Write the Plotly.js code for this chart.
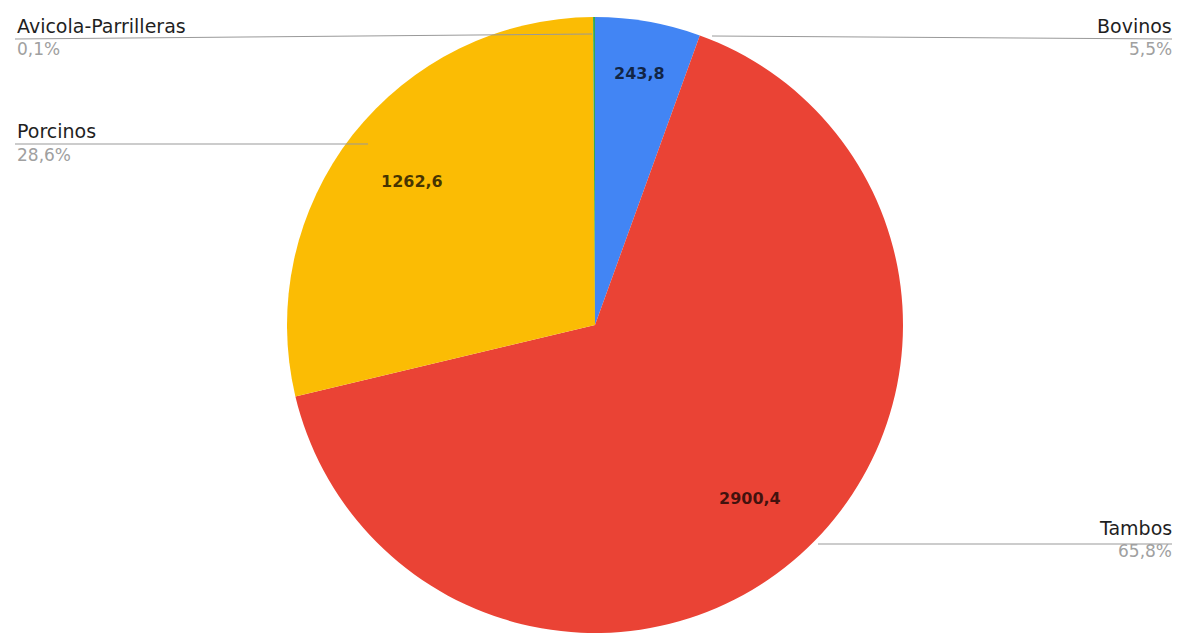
<!DOCTYPE html>
<html>
<head>
<meta charset="utf-8">
<script src="https://cdn.plot.ly/plotly-3.0.1.min.js"></script>
<style>html,body{margin:0;padding:0;background:#fff;}#chart{width:1177px;height:642px;}</style>
</head>
<body>
<div id="chart"></div>
<script>
// ---- data ----
const categories = ["Bovinos", "Tambos", "Porcinos", "Avicola-Parrilleras"];
const values = [243.8, 2900.4, 1262.6, 4.4];
const colors = ["#4285F4", "#EA4335", "#FBBC04", "#34A853"];

// ---- geometry ----
const W = 1177, H = 642;
const CX = 595, CY = 325, R = 308;
const px = x => x / W;
const py = y => 1 - y / H;

const total = values.reduce((a, b) => a + b, 0);
const fmt = v => v.toFixed(1).replace('.', ',');

// value labels placed at each slice's mid-angle
const annotations = [];
let acc = 0;
values.forEach((v, i) => {
  const frac = v / total;
  const mid = (acc + frac / 2) * 2 * Math.PI;
  acc += frac;
  if (frac < 0.01) return;
  const rf = frac < 0.08 ? 0.83 : 0.755;
  const x = CX + R * rf * Math.sin(mid);
  const y = CY - R * rf * Math.cos(mid);
  annotations.push({
    xref: 'paper', yref: 'paper', x: px(x), y: py(y),
    xanchor: 'center', yanchor: 'middle', showarrow: false,
    text: '<b>' + fmt(v) + '</b>',
    font: {family: 'DejaVu Sans', size: 16, color: 'rgba(0,0,0,0.72)'}
  });
});

// outside legend labels (name + percentage) with leader lines
const legendSpec = {
  "Avicola-Parrilleras": {side: 'left', nameY: 26, pctY: 49, line: [[15, 39], [592, 34]]},
  "Bovinos": {side: 'right', nameY: 26, pctY: 49, line: [[712, 36], [1172, 39]]},
  "Porcinos": {side: 'left', nameY: 131, pctY: 155, line: [[15, 144], [368, 144]]},
  "Tambos": {side: 'right', nameY: 528, pctY: 551, line: [[818, 544], [1172, 544]]}
};
const shapes = [];
categories.forEach((c, i) => {
  const s = legendSpec[c];
  const left = s.side === 'left';
  const xPos = left ? px(15) : px(1174);
  annotations.push({
    xref: 'paper', yref: 'paper', x: xPos, y: py(s.nameY),
    xanchor: left ? 'left' : 'right', yanchor: 'middle', showarrow: false,
    text: c, font: {family: 'DejaVu Sans', size: 19, color: '#1f1f1f'}
  });
  annotations.push({
    xref: 'paper', yref: 'paper', x: xPos, y: py(s.pctY),
    xanchor: left ? 'left' : 'right', yanchor: 'middle', showarrow: false,
    text: fmt(values[i] / total * 100) + '%',
    font: {family: 'DejaVu Sans', size: 17, color: '#a0a0a0'}
  });
  shapes.push({
    type: 'line', xref: 'paper', yref: 'paper',
    x0: px(s.line[0][0]), y0: py(s.line[0][1]),
    x1: px(s.line[1][0]), y1: py(s.line[1][1]),
    line: {color: '#999999', width: 1}
  });
});

const trace = {
  type: 'pie',
  labels: categories,
  values: values,
  sort: false,
  direction: 'clockwise',
  rotation: 0,
  textinfo: 'none',
  hoverinfo: 'label+value+percent',
  marker: {colors: colors, line: {width: 0}},
  domain: {x: [px(CX - R), px(CX + R)], y: [py(CY + R), py(CY - R)]},
  showlegend: false
};

const layout = {
  width: W, height: H,
  margin: {l: 0, r: 0, t: 0, b: 0},
  paper_bgcolor: '#ffffff',
  plot_bgcolor: '#ffffff',
  showlegend: false,
  annotations: annotations,
  shapes: shapes
};

Plotly.newPlot('chart', [trace], layout, {displayModeBar: false, staticPlot: true});
</script>
</body>
</html>
